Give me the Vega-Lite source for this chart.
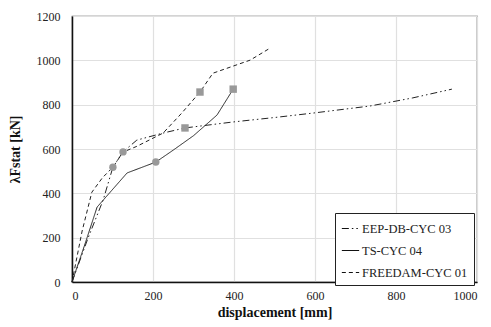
{
  "$schema": "https://vega.github.io/schema/vega-lite/v6.json",
  "autosize": {"type": "none"},
  "padding": {"left": 72, "top": 16, "right": 14, "bottom": 45},
  "width": 405,
  "height": 266,
  "background": "white",
  "config": {
    "font": "Liberation Serif",
    "view": {"stroke": "#555555", "strokeWidth": 1.2},
    "axis": {"labelFont": "Liberation Serif", "titleFont": "Liberation Serif"},
    "legend": {"labelFont": "Liberation Serif"}
  },
  "datasets": {
    "lines": [
      {"series": "FREEDAM-CYC 01", "x": 0, "y": 0},
      {"series": "FREEDAM-CYC 01", "x": 25, "y": 230},
      {"series": "FREEDAM-CYC 01", "x": 49, "y": 405},
      {"series": "FREEDAM-CYC 01", "x": 75, "y": 470},
      {"series": "FREEDAM-CYC 01", "x": 101, "y": 518},
      {"series": "FREEDAM-CYC 01", "x": 126, "y": 586},
      {"series": "FREEDAM-CYC 01", "x": 160, "y": 612},
      {"series": "FREEDAM-CYC 01", "x": 225, "y": 672},
      {"series": "FREEDAM-CYC 01", "x": 270, "y": 760},
      {"series": "FREEDAM-CYC 01", "x": 316, "y": 857},
      {"series": "FREEDAM-CYC 01", "x": 348, "y": 942},
      {"series": "FREEDAM-CYC 01", "x": 440, "y": 1001},
      {"series": "FREEDAM-CYC 01", "x": 489, "y": 1055},
      {"series": "EEP-DB-CYC 03", "x": 0, "y": 0},
      {"series": "EEP-DB-CYC 03", "x": 40, "y": 200},
      {"series": "EEP-DB-CYC 03", "x": 77, "y": 370},
      {"series": "EEP-DB-CYC 03", "x": 101, "y": 518},
      {"series": "EEP-DB-CYC 03", "x": 126, "y": 587},
      {"series": "EEP-DB-CYC 03", "x": 160, "y": 640},
      {"series": "EEP-DB-CYC 03", "x": 225, "y": 672},
      {"series": "EEP-DB-CYC 03", "x": 279, "y": 695},
      {"series": "EEP-DB-CYC 03", "x": 398, "y": 722},
      {"series": "EEP-DB-CYC 03", "x": 500, "y": 742},
      {"series": "EEP-DB-CYC 03", "x": 595, "y": 762},
      {"series": "EEP-DB-CYC 03", "x": 736, "y": 794},
      {"series": "EEP-DB-CYC 03", "x": 840, "y": 830},
      {"series": "EEP-DB-CYC 03", "x": 938, "y": 870},
      {"series": "TS-CYC 04", "x": 0, "y": 0},
      {"series": "TS-CYC 04", "x": 30, "y": 160},
      {"series": "TS-CYC 04", "x": 62, "y": 338},
      {"series": "TS-CYC 04", "x": 136, "y": 492},
      {"series": "TS-CYC 04", "x": 207, "y": 541},
      {"series": "TS-CYC 04", "x": 250, "y": 595},
      {"series": "TS-CYC 04", "x": 300, "y": 660},
      {"series": "TS-CYC 04", "x": 358, "y": 753},
      {"series": "TS-CYC 04", "x": 398, "y": 870}
    ],
    "markers": [
      {"kind": "circle", "x": 101, "y": 518},
      {"kind": "circle", "x": 126, "y": 587},
      {"kind": "circle", "x": 207, "y": 541},
      {"kind": "square", "x": 279, "y": 695},
      {"kind": "square", "x": 316, "y": 857},
      {"kind": "square", "x": 398, "y": 870}
    ]
  },
  "layer": [
    {
      "data": {"name": "lines"},
      "mark": {"type": "line", "color": "#222222", "strokeWidth": 1},
      "encoding": {
        "x": {
          "field": "x", "type": "quantitative",
          "scale": {"domain": [0, 1000], "nice": false},
          "axis": {
            "values": [0, 200, 400, 600, 800, 1000],
            "format": "d",
            "title": "displacement  [mm]",
            "titleFont": "Liberation Serif",
            "titleFontSize": 14, "titleFontWeight": "bold", "titleColor": "#111111",
            "titlePadding": 4,
            "labelFont": "Liberation Serif",
            "labelFontSize": 12, "labelColor": "#222222", "labelPadding": 8,
            "tickSize": 0, "domainColor": "#111111", "domainWidth": 1.5,
            "gridColor": "#e0e0e0", "gridWidth": 1.2
          }
        },
        "y": {
          "field": "y", "type": "quantitative",
          "scale": {"domain": [0, 1200], "nice": false},
          "axis": {
            "values": [0, 200, 400, 600, 800, 1000, 1200],
            "format": "d",
            "title": "λFstat  [kN]",
            "titleFont": "Liberation Serif",
            "titleFontSize": 14, "titleFontWeight": "bold", "titleColor": "#111111",
            "titlePadding": 14,
            "labelFont": "Liberation Serif",
            "labelFontSize": 12, "labelColor": "#222222", "labelPadding": 12,
            "tickSize": 0, "domainColor": "#111111", "domainWidth": 1.5,
            "gridColor": "#e0e0e0", "gridWidth": 1.2
          }
        },
        "detail": {"field": "series"},
        "strokeDash": {
          "field": "series", "type": "nominal",
          "scale": {
            "domain": ["EEP-DB-CYC 03", "TS-CYC 04", "FREEDAM-CYC 01"],
            "range": [[7, 3, 1.5, 3, 1.5, 3], [1, 0], [4, 3]]
          },
          "legend": {
            "title": null,
            "orient": "none",
            "legendX": 263,
            "legendY": 197,
            "symbolType": "stroke",
            "symbolStrokeColor": "#111111",
            "symbolStrokeWidth": 1.2,
            "symbolSize": 300,
            "labelFont": "Liberation Serif",
            "labelFontSize": 12.5,
            "labelColor": "#222222",
            "labelOffset": 2,
            "rowPadding": 6,
            "padding": 6,
            "strokeColor": "#222222",
            "fillColor": "white"
          }
        }
      }
    },
    {
      "data": {"name": "markers"},
      "mark": {"type": "point", "filled": true, "color": "#999999", "opacity": 1, "size": 55},
      "encoding": {
        "x": {"field": "x", "type": "quantitative"},
        "y": {"field": "y", "type": "quantitative"},
        "shape": {
          "field": "kind", "type": "nominal",
          "scale": {"domain": ["circle", "square"], "range": ["circle", "square"]},
          "legend": null
        }
      }
    }
  ]
}
